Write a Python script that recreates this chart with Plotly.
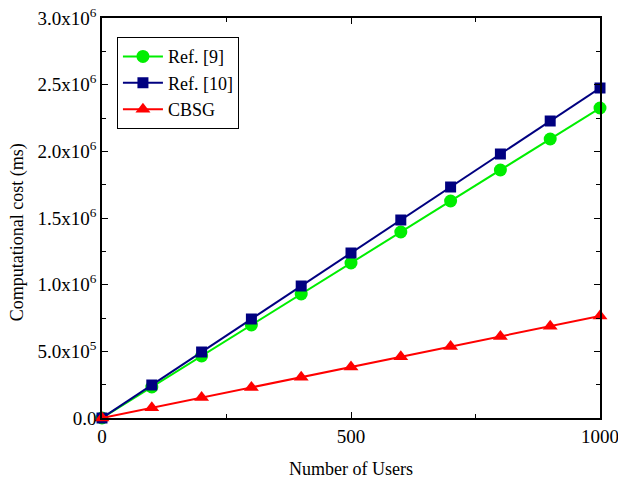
import plotly.graph_objects as go

users = [0, 100, 200, 300, 400, 500, 600, 700, 800, 900, 1000]
ref9 = [0, 232500, 465000, 697500, 930000, 1162500, 1395000, 1627500, 1860000, 2092500, 2325000]
ref10 = [0, 247500, 495000, 742500, 990000, 1237500, 1485000, 1732500, 1980000, 2227500, 2475000]
cbsg = [0, 76500, 153000, 229500, 306000, 382500, 459000, 535500, 612000, 688500, 765000]

y_tickvals = [0, 500000, 1000000, 1500000, 2000000, 2500000, 3000000]
y_ticktext = ["0.0", "5.0x10<sup>5</sup>", "1.0x10<sup>6</sup>", "1.5x10<sup>6</sup>",
              "2.0x10<sup>6</sup>", "2.5x10<sup>6</sup>", "3.0x10<sup>6</sup>"]
x_tickvals = [0, 500, 1000]

font = "Liberation Serif, Times New Roman, serif"

fig = go.Figure()
fig.add_trace(go.Scatter(x=users, y=ref9, name="Ref. [9]", mode="lines+markers",
                         line=dict(color="#00ee00", width=2),
                         marker=dict(symbol="circle", size=13, color="#00ee00")))
fig.add_trace(go.Scatter(x=users, y=ref10, name="Ref. [10]", mode="lines+markers",
                         line=dict(color="#000080", width=2),
                         marker=dict(symbol="square", size=11, color="#000080")))
fig.add_trace(go.Scatter(x=users, y=cbsg, name="CBSG", mode="lines+markers",
                         line=dict(color="#ff0000", width=2),
                         marker=dict(symbol="triangle-up", size=13, color="#ff0000")))

fig.update_layout(
    width=618, height=479,
    margin=dict(l=102, r=18, t=18, b=61),
    paper_bgcolor="white", plot_bgcolor="white",
    font=dict(family=font, size=18, color="black"),
    showlegend=True,
    legend=dict(x=0.03, y=0.952, xanchor="left", yanchor="top",
                bordercolor="black", borderwidth=1, bgcolor="white",
                font=dict(size=18), itemwidth=40, tracegroupgap=0),
    annotations=[dict(text="Computational cost (ms)", xref="paper", yref="paper",
                      x=-0.168, y=0.465, xanchor="center", yanchor="middle",
                      textangle=-90, showarrow=False, font=dict(size=18))],
)
fig.update_xaxes(
    range=[0, 1000], tickvals=x_tickvals, ticks="inside", ticklen=6, tickcolor="black",
    showline=True, linecolor="black", linewidth=1.5, mirror="ticks", showgrid=False,
    zeroline=False, automargin=False, ticklabeloverflow="allow",
    minor=dict(tickvals=[250, 750], ticks="inside", ticklen=4, tickcolor="black"),
    title=dict(text="Number of Users", standoff=23, font=dict(size=18)), tickfont=dict(size=19),
)
fig.update_yaxes(
    range=[0, 3000000], tickvals=y_tickvals, ticktext=y_ticktext, ticks="inside", ticklen=6,
    tickcolor="black", showline=True, linecolor="black", linewidth=1.5, mirror="ticks",
    showgrid=False, zeroline=False, automargin=False, ticklabeloverflow="allow",
    minor=dict(tickvals=[250000, 750000, 1250000, 1750000, 2250000, 2750000], ticks="inside",
               ticklen=4, tickcolor="black"),
    tickfont=dict(size=19),
)
fig.update_traces(cliponaxis=False)

fig.write_html("out.html", config={"displayModeBar": False},
               post_script="document.body.style.margin='0';document.body.style.overflow='hidden';")
